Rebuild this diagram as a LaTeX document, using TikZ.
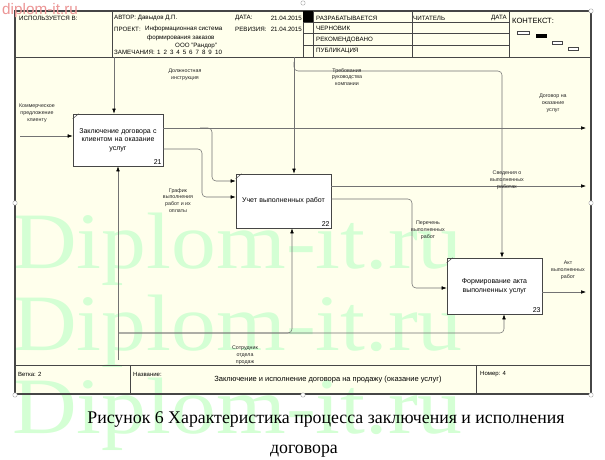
\documentclass[tikz,border=0pt]{standalone}
\usepackage{fontspec}
\setmainfont{Liberation Sans}
\newfontfamily\serifcap{Liberation Serif}
\usetikzlibrary{arrows.meta}
\definecolor{bgy}{RGB}{255,255,236}
\definecolor{ln}{RGB}{115,115,115}
\definecolor{frm}{RGB}{70,70,70}
\definecolor{wm}{RGB}{212,255,212}
\definecolor{wmred}{RGB}{236,150,150}
\begin{document}
\begin{tikzpicture}[x=1pt,y=-1pt,
  hdr/.style={font=\fontsize{6.2}{7}\selectfont, inner sep=0pt, anchor=west},
  hdre/.style={hdr, anchor=east},
  lbl/.style={font=\fontsize{5.3}{6.9}\selectfont, align=center, inner sep=0pt, text=black!85},
  proc/.style={draw=frm, fill=white, line width=0.6pt, align=center,
    font=\fontsize{7}{8.6}\selectfont, inner sep=1pt},
  num/.style={font=\fontsize{7}{8}\selectfont, anchor=south east, inner sep=1.5pt},
  flow/.style={draw=ln, line width=0.55pt, rounded corners=4pt},
  arr/.style={flow, -{Latex[length=5pt,width=3.6pt,color=black]}},
  hline/.style={draw=frm, line width=0.5pt},
  handle/.style={draw=gray!70, fill=white, line width=0.4pt},
  wmark/.style={font=\serifcap\fontsize{80}{80}\selectfont, text=wm, anchor=base west, inner sep=0pt},
]
\useasboundingbox (0,0) rectangle (605,460);
\fill[white] (0,0) rectangle (605,460);
% frame
\path[fill=bgy] (15,11) rectangle (591,394);
% watermark
\node[wmark] (wm1) at (12,268) {\scalebox{1.12}[1]{Diplom-it.ru}};
\node[wmark] (wm2) at (12,350) {\scalebox{1.12}[1]{Diplom-it.ru}};
\node[wmark] (wm3) at (12,433) {\scalebox{1.12}[1]{Diplom-it.ru}};
\draw[draw=frm, line width=1.1pt] (15,11) rectangle (591,394);
% header
\draw[hline] (15,57) -- (591,57);
\foreach \xx in {112,303,313,412,509} \draw[hline] (\xx,11) -- (\xx,57);
\foreach \yy in {22.5,33.5,45} \draw[hline] (303,\yy) -- (509,\yy);
\fill[black] (303,11) rectangle (313,22.5);
\node[hdr] (h1) at (19,18) {ИСПОЛЬЗУЕТСЯ В:};
\node[hdr] (h2) at (114,18) {АВТОР: Давыдов Д.П.};
\node[hdr] (h3) at (235,18) {ДАТА:};
\node[hdre] (h4) at (302,18) {21.04.2015};
\node[hdr] (h5) at (114,29) {ПРОЕКТ:};
\node[hdr] (h6) at (145,29) {Информационная система};
\node[hdr] (h7) at (147,38) {формирования заказов};
\node[hdr] (h8) at (175,45.5) {ООО "Рандор"};
\node[hdr] (h9) at (114,52) {ЗАМЕЧАНИЯ:};
\foreach \k [count=\i] in {1,2,3,4,5,6,7,8,9} \node[hdr] (z\i) at (157+6.4*\i-6.4,52) {\k};
\node[hdr] (z10) at (215,52) {10};
\node[hdr] (h10) at (235,29) {РЕВИЗИЯ:};
\node[hdre] (h11) at (302,29) {21.04.2015};
\node[hdr] (h12) at (316,18) {РАЗРАБАТЫВАЕТСЯ};
\node[hdr] (h13) at (316,28.5) {ЧЕРНОВИК};
\node[hdr] (h14) at (316,39.5) {РЕКОМЕНДОВАНО};
\node[hdr] (h15) at (316,50.5) {ПУБЛИКАЦИЯ};
\node[hdr] (h16) at (413,18) {ЧИТАТЕЛЬ};
\node[hdre] (h17) at (507,18) {ДАТА};
\node[hdr, font=\fontsize{7.6}{9}\selectfont] (h18) at (512,21) {КОНТЕКСТ:};
\draw[draw=frm, line width=0.5pt, fill=white] (517,31) rectangle (529,34.5);
\fill[black] (536,34.5) rectangle (547,38);
\draw[draw=frm, line width=0.5pt, fill=white] (552,41) rectangle (562,44.5);
\draw[draw=frm, line width=0.5pt, fill=white] (568,47) rectangle (578,50.5);
% footer
\draw[hline] (15,365) -- (591,365);
\draw[hline] (130,365) -- (130,394);
\draw[hline] (476,365) -- (476,394);
\node[hdr, font=\fontsize{6}{7}\selectfont] (f1) at (18,374) {Ветка: 2};
\node[hdr, font=\fontsize{6}{7}\selectfont] (f2) at (133,374) {Название:};
\node[font=\fontsize{7.5}{8}\selectfont, inner sep=0pt] (f3) at (328,380) {Заключение и исполнение договора на продажу (оказание услуг)};
\node[hdr, font=\fontsize{6}{7}\selectfont] (f4) at (480,374) {Номер: 4};
% boxes
\node[proc, minimum width=90pt, minimum height=52pt, text width=86pt] (b21) at (118,140) {Заключение договора с\\клиентом на оказание\\услуг\\[1pt]};
\node[num] (n21) at (b21.south east) {21};
\node[proc, minimum width=95pt, minimum height=54pt, text width=89pt] (b22) at (283.5,201) {Учет выполненных работ\\[5pt]};
\node[num] (n22) at (b22.south east) {22};
\node[proc, minimum width=95pt, minimum height=56pt, text width=89pt] (b23) at (494.5,286) {Формирование акта\\выполненных услуг\\[2pt]};
\node[num] (n23) at (b23.south east) {23};
\foreach \b in {b21,b22,b23} \draw[draw=frm, line width=0.5pt] ([yshift=-5pt]\b.north west) -- ([xshift=6pt]\b.north west);
% input
\coordinate (in1) at (20,136);
\draw[arr] (in1) -- (in1 -| b21.west);
% controls
\coordinate (c1) at (114,57);
\draw[arr] (c1) -- (c1 |- b21.north);
\coordinate (c2) at (294,57);
\draw[arr] (c2) -- (c2 |- b22.north);
\coordinate (c2b) at (294,62);
\coordinate (c2r) at (502,71);
\draw[arr] (c2b) |- (c2r) -- (c2r |- b23.north);
% outputs
\coordinate (o1e) at (586,128);
\draw[arr] (b21.east |- o1e) -- (o1e);
\coordinate (o1b) at (200,128);
\coordinate (o1t) at (212,181);
\draw[arr] (o1b) -| (o1t) -- (o1t -| b22.west);
\coordinate (o2y) at (170,149);
\coordinate (o2k) at (202,197);
\draw[arr] (b21.east |- o2y) -| (o2k) -- (o2k -| b22.west);
\coordinate (o3e) at (586,186);
\draw[arr] (b22.east |- o3e) -- (o3e);
\coordinate (o4y) at (340,199);
\coordinate (o4k) at (412,288);
\draw[arr] (b22.east |- o4y) -| (o4k) -- (o4k -| b23.west);
\coordinate (o5e) at (586,292);
\draw[arr] (b23.east |- o5e) -- (o5e);
% mechanisms
\coordinate (m1) at (118,360);
\draw[arr] (m1) -- (m1 |- b21.south);
\coordinate (m1k) at (118,333);
\coordinate (m2) at (292,333);
\coordinate (m3) at (504,333);
\draw[arr] (m1k) -| (m2 |- b22.south);
\draw[arr] (m1k) -| (m3 |- b23.south);
% labels
\node[lbl] (l1) at (37,113) {Коммерческое\\предложение\\клиенту};
\node[lbl] (l2) at (185,74.5) {Должностная\\инструкция};
\node[lbl] (l3) at (347,77) {Требования\\руководства\\компании};
\node[lbl] (l4) at (553,103.5) {Договор на\\оказание\\услуг};
\node[lbl] (l5) at (178,200.5) {График\\выполнения\\работ и их\\оплаты};
\node[lbl] (l6) at (507,180.5) {Сведения о\\выполненных\\работах};
\node[lbl] (l7) at (428,230) {Перечень\\выполненных\\работ};
\node[lbl] (l8) at (568,270.5) {Акт\\выполненных\\работ};
\node[lbl] (l9) at (245,355) {Сотрудник\\отдела\\продаж};
% caption
\node[font=\serifcap\fontsize{17.8}{20}\selectfont, anchor=base, inner sep=0pt] (cap1) at (326,423) {Рисунок 6 Характеристика процесса заключения и исполнения};
\node[font=\serifcap\fontsize{17.8}{20}\selectfont, anchor=base, inner sep=0pt] (cap2) at (304,453) {договора};
% selection handles
\foreach \p in {(15,203),(591,203),(15,395),(303,395),(591,395),(591,11),(303,3)} \draw[handle] \p circle (2.2);
% top-left mark
\node[font=\fontsize{15.3}{16}\selectfont, text=wmred, anchor=base west, inner sep=0pt] (wmt) at (2,15) {diplom-it.ru};
\end{tikzpicture}
\end{document}
